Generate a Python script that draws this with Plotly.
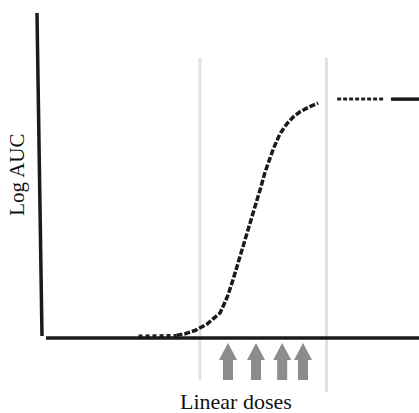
import plotly.graph_objects as go

# Conceptual units: dose 0..100 (linear), log AUC 0..100
curve_dose = [36.0, 38.3, 40.9, 42.2, 44.1, 45.6, 47.5, 48.5, 49.6, 50.9, 52.2, 53.6, 54.6,
              55.9, 57.3, 58.3, 59.4, 60.4, 61.5, 63.3, 65.2, 66.8, 68.6, 71.2, 73.4]
curve_auc = [0.8, 1.3, 2.3, 3.1, 4.3, 5.8, 7.7, 10.2, 13.2, 17.8, 22.8, 27.7, 32.3,
             37.2, 42.5, 46.5, 51.1, 54.6, 58.0, 62.8, 66.0, 68.0, 69.6, 71.2, 72.3]
base_dose = [26.0, 36.0]
base_auc = [0.6, 0.8]
plateau_dose = [78.4, 90.8]
plateau_auc = [73.5, 73.5]
plateau_solid_dose = [92.6, 100.0]
plateau_solid_auc = [73.5, 73.5]
window_doses = [42.2, 75.6]
tested_doses = [49.6, 57.0, 63.9, 69.4]
x_label = "Linear doses"
y_label = "Log AUC"

XR = [-10.55, 100.0]
YR = [-23.08, 104.0]
px_x = 419 / (XR[1] - XR[0])
px_y = 413 / (YR[1] - YR[0])

fig = go.Figure()
fig.add_trace(go.Scatter(x=base_dose, y=base_auc, mode="lines",
                         line=dict(color="#222", width=3, dash="4px,3px"), hoverinfo="skip"))
fig.add_trace(go.Scatter(x=curve_dose, y=curve_auc, mode="lines",
                         line=dict(color="#1a1a1a", width=3.5, dash="6px,2px"), hoverinfo="skip"))
fig.add_trace(go.Scatter(x=plateau_dose, y=plateau_auc, mode="lines",
                         line=dict(color="#222", width=3, dash="4px,2px"), hoverinfo="skip"))
fig.add_trace(go.Scatter(x=plateau_solid_dose, y=plateau_solid_auc, mode="lines",
                         line=dict(color="#1a1a1a", width=3.5), hoverinfo="skip"))

shapes = []
# gray window lines
for i, d in enumerate(window_doses):
    shapes.append(dict(type="line", x0=d, x1=d, y0=86.2, y1=-12.9 if i == 0 else -16.6,
                       line=dict(color="#e2e2e2", width=3), layer="below"))
# axes
shapes.append(dict(type="line", x0=-0.79, x1=0.53, y0=100, y1=0.6,
                   line=dict(color="#1a1a1a", width=3.5)))
shapes.append(dict(type="line", x0=1.58, x1=100, y0=0, y1=0,
                   line=dict(color="#1a1a1a", width=3.5)))
# arrows
hw = 9 / px_x
sw = 5 / px_x
tip = -5 / px_y
hb = -22 / px_y
bot = -42 / px_y
for d in tested_doses:
    path = (f"M {d},{tip} L {d+hw},{hb} L {d+sw},{hb} L {d+sw},{bot} "
            f"L {d-sw},{bot} L {d-sw},{hb} L {d-hw},{hb} Z")
    shapes.append(dict(type="path", path=path, fillcolor="#8c8c8c",
                       line=dict(width=0)))

fig.update_layout(
    width=419, height=413, margin=dict(l=0, r=0, t=0, b=0),
    paper_bgcolor="white", plot_bgcolor="white", showlegend=False,
    xaxis=dict(range=XR, visible=False, fixedrange=True),
    yaxis=dict(range=YR, visible=False, fixedrange=True),
    shapes=shapes,
    annotations=[
        dict(x=51.7, y=-19.4, text=x_label, showarrow=False,
             font=dict(family="Liberation Serif", size=22, color="#111")),
        dict(x=-6.1, y=50.2, text=y_label, showarrow=False, textangle=-90,
             font=dict(family="Liberation Serif", size=21, color="#111")),
    ],
)
fig.write_html("out.html", config={"displayModeBar": False},
               post_script="document.body.style.margin='0';document.body.style.overflow='hidden';")
